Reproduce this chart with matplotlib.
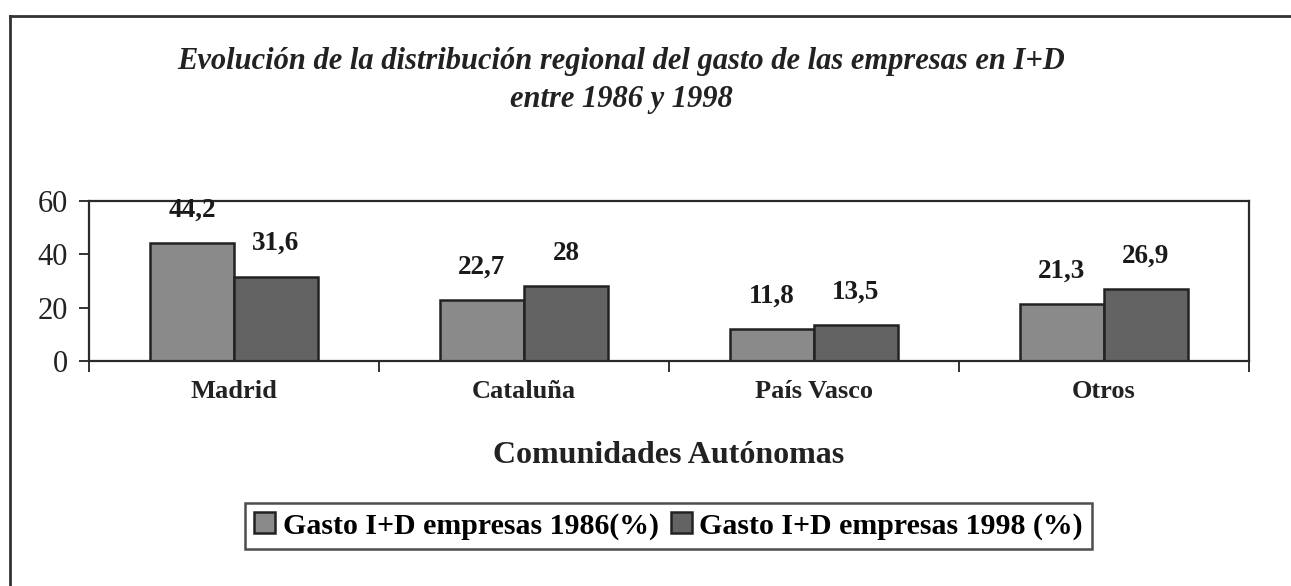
import matplotlib
matplotlib.use("Agg")
import matplotlib.pyplot as plt
from matplotlib.lines import Line2D
import numpy as np

plt.rcParams['font.family'] = ['Liberation Serif', 'DejaVu Serif']

comunidades = ['Madrid', 'Cataluña', 'País Vasco', 'Otros']
gasto_1986 = [44.2, 22.7, 11.8, 21.3]
gasto_1998 = [31.6, 28, 13.5, 26.9]
series_names = ['Gasto I+D empresas 1986(%)', 'Gasto I+D empresas 1998 (%)']
yticks = [0, 20, 40, 60]

W, H = 1291, 586
fig = plt.figure(figsize=(W / 100, H / 100), dpi=100)


def px(x, y):
    # pixel position measured from the top-left corner -> figure fraction
    return x / W, 1 - y / H


# outer frame (left and top edges only)
fig.add_artist(Line2D([10 / W, 10 / W], [0, 1 - 15.5 / H], color='#333333', lw=2))
fig.add_artist(Line2D([10 / W, 1], [1 - 15.5 / H, 1 - 15.5 / H], color='#333333', lw=2))

ax = fig.add_axes([89 / W, 1 - 361 / H, (1249 - 89) / W, (361 - 200.7) / H])

x = np.arange(len(comunidades))
bw = 0.29
col86 = '#8a8a8a'
col98 = '#636363'
b1 = ax.bar(x - bw / 2, gasto_1986, bw, color=col86, edgecolor='#222222', linewidth=1.8,
            label=series_names[0])
b2 = ax.bar(x + bw / 2, gasto_1998, bw, color=col98, edgecolor='#222222', linewidth=1.8,
            label=series_names[1])

for bars, vals in ((b1, gasto_1986), (b2, gasto_1998)):
    for r, v in zip(bars, vals):
        lbl = ('%g' % v).replace('.', ',')
        ax.annotate(lbl, (r.get_x() + r.get_width() / 2, v), xytext=(0, 33),
                    textcoords='offset pixels', ha='center', va='center',
                    fontsize=19.5, fontweight='bold', color='#1a1a1a')

ax.set_xlim(-0.5, 3.5)
ax.set_ylim(0, 60)
ax.set_yticks(yticks)
ax.tick_params(axis='y', direction='out', length=7, width=1.3, pad=8,
               labelsize=22, colors='#222222')
ax.set_xticks(x)
ax.set_xticklabels(comunidades, fontsize=19, fontweight='bold')
ax.tick_params(axis='x', which='major', length=0, pad=14, colors='#222222')
ax.set_xticks(np.arange(-0.5, 4, 1), minor=True)
ax.tick_params(axis='x', which='minor', direction='out', length=8, width=1.3, color='#222222')
for s in ax.spines.values():
    s.set_linewidth(1.6)
    s.set_color('#2a2a2a')

ax.set_xlabel('Comunidades Autónomas', fontsize=23, fontweight='bold', labelpad=27,
              color='#222222')

fig.text(*px(621, 61), 'Evolución de la distribución regional del gasto de las empresas en I+D',
         ha='center', va='center', fontsize=22, fontweight='bold', style='italic', color='#222222')
fig.text(*px(621, 100), 'entre 1986 y 1998', ha='center', va='center', fontsize=22,
         fontweight='bold', style='italic', color='#222222')

leg = fig.legend(handles=[b1, b2], loc='center', bbox_to_anchor=px(668.5, 526), ncol=2,
                 frameon=True, fancybox=False, edgecolor='#222222',
                 prop={'weight': 'bold', 'size': 21.5}, handlelength=0.7, handleheight=0.7,
                 handletextpad=0.25, columnspacing=0.4, borderpad=0.3, borderaxespad=0)
leg.get_frame().set_linewidth(1.8)

fig.savefig('out.png', dpi=100, facecolor='white')
